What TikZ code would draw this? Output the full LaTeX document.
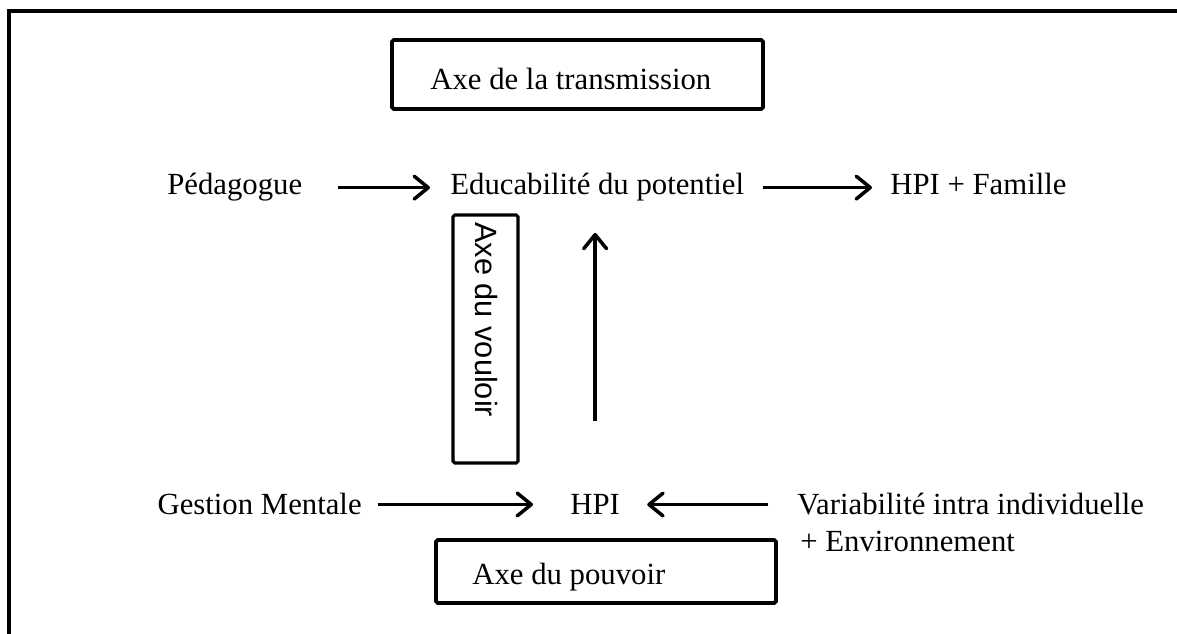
\documentclass[tikz,border=0pt]{standalone}
\usepackage{fontspec}
\setmainfont{Liberation Serif}
\setsansfont{Liberation Sans}
\usetikzlibrary{arrows.meta}

\begin{document}
\begin{tikzpicture}[x=0.02cm, y=-0.02cm,
    txt/.style={inner sep=0pt, font=\fontsize{17.5}{20.5}\selectfont, anchor=base west},
    arr/.style={-{Straight Barb[length=8pt, width=13pt, round]}, line width=2pt},
    thickbox/.style={line width=2.2pt, rounded corners=1pt},
    thinbox/.style={line width=1.8pt, rounded corners=1pt}]
\useasboundingbox (0,0) rectangle (1177,634);
% cadre
\draw[line width=2pt] (1177,11) -- (9,11) -- (9,634);

\draw[thickbox] (392,40) rectangle (763,109);
\node[txt] (transm) at (430,90) {Axe de la transmission};

\node[txt] (ped) at (167,195) {Pédagogue};
\node[txt] (edu) at (450,195) {Educabilité du potentiel};
\node[txt] (fam) at (890,195) {HPI + Famille};

\draw[thinbox] (453,215) rectangle (518,463);
\node[txt, font=\sffamily\fontsize{17.5}{20.5}\selectfont, rotate=-90, anchor=west] (vouloir) at (486,222) {Axe du vouloir};

\node[txt, anchor=base east] (gest) at (362,515) {Gestion Mentale};
\node[txt] (hpi) at (570,515) {HPI};
\node[txt] (var) at (797,515) {Variabilité intra individuelle};
\node[txt] (env) at (800,552) {+ Environnement};

\draw[thickbox] (436,540) rectangle (776,603);
\node[txt] (pouvoir) at (472,585) {Axe du pouvoir};

\draw[arr, shorten <=0.7cm, shorten >=0.4cm] (ped.east) -- (ped.east -| edu.west);
\draw[arr, shorten <=0.38cm, shorten >=0.36cm] (edu.east) -- (edu.east -| fam.west);
\draw[arr, shorten <=1.48cm, shorten >=0.62cm] (hpi.north) -- (hpi.north |- edu.south);
\draw[arr, shorten <=0.32cm, shorten >=0.74cm] (gest.east) -- (gest.east -| hpi.west);
\draw[arr, shorten <=0.58cm, shorten >=0.54cm] (var.west) -- (var.west -| hpi.east);
\end{tikzpicture}
\end{document}
